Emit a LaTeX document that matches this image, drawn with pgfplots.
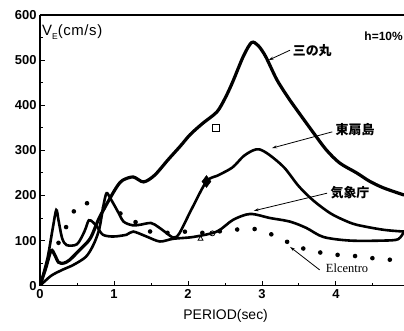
\documentclass[border=0pt]{standalone}
\usepackage{fontspec}
\setmainfont{Liberation Sans}
\newfontfamily\jp{Noto Sans CJK JP}
\newfontfamily\tm{Liberation Serif}
\usepackage{pgfplots}
\pgfplotsset{compat=1.18}
\usetikzlibrary{arrows.meta}
\begin{document}
\begin{tikzpicture}
\path[use as bounding box] (-40bp,-45.3bp) rectangle (364bp,285.7bp);
\begin{axis}[
  at={(0,0)}, anchor=south west,
  scale only axis, width=364bp, height=270.7bp,
  xmin=0, xmax=4.92, ymin=0, ymax=600,
  axis y line*=left,
  xtick={0,1,2,3,4}, minor xtick={0.5,1.5,2.5,3.5,4.5},
  ytick={0,100,200,300,400,500,600}, minor ytick={50,150,250,350,450,550},
  xtick pos=bottom,
  tick align=inside,
  major tick length=5bp, minor tick length=3bp,
  every tick/.style={black, line width=0.9bp},
  axis line style={line width=1.3bp},
  /pgf/number format/assume math mode=true,
  tick label style={font=\bfseries\fontsize{13}{14}\selectfont},
  xlabel={PERIOD(sec)},
  xlabel style={font=\fontsize{14}{15}\selectfont, at={(axis description cs:0.51,0)}, anchor=north, yshift=-20bp},
  clip mode=individual,
]
% 三の丸
\addplot[black, line width=3.2bp, smooth, tension=0.5] coordinates {
(0,0) (0.08,40) (0.15,78) (0.2,68) (0.25,52) (0.32,50) (0.4,57) (0.54,80) (0.68,105) (0.8,150) (0.95,195) (1.05,222) (1.12,234) (1.26,241) (1.4,230) (1.55,245) (1.73,279) (1.9,310) (2.03,335) (2.2,360) (2.39,385) (2.5,415) (2.6,450) (2.75,509) (2.86,539) (2.95,532) (3.05,508) (3.2,457) (3.35,418) (3.47,390) (3.7,338) (3.87,301) (4.05,272) (4.28,250) (4.45,232) (4.64,217) (4.92,201)
};
% 東扇島
\addplot[black, line width=2.6bp, smooth, tension=0.5] coordinates {
(0,0) (0.15,22) (0.3,35) (0.45,46) (0.62,64) (0.72,90) (0.8,125) (0.86,180) (0.9,205) (0.95,194) (1.05,165) (1.13,142) (1.25,134) (1.35,135) (1.5,139) (1.6,130) (1.7,118) (1.8,107) (1.88,115) (2.05,170) (2.25,231) (2.4,244) (2.6,262) (2.75,287) (2.88,300) (2.97,302) (3.1,290) (3.3,262) (3.5,220) (3.7,188) (3.92,161) (4.1,146) (4.28,135) (4.64,124) (4.92,120)
};
% 気象庁
\addplot[black, line width=2.6bp, smooth, tension=0.5] coordinates {
(0,0) (0.1,60) (0.17,125) (0.22,168) (0.25,145) (0.3,105) (0.36,90) (0.5,92) (0.6,120) (0.66,145) (0.72,140) (0.77,131) (0.85,113) (0.99,109) (1.17,113) (1.26,120) (1.44,109) (1.62,98) (1.8,104) (2.07,108) (2.39,120) (2.61,146) (2.84,159) (3.11,150) (3.38,142) (3.6,128) (3.83,108) (4.19,100) (4.64,100) (4.84,103) (4.92,120)
};
% Elcentro
\addplot[black, line width=4.6bp, line cap=round, dash pattern=on 0pt off 17.5bp, smooth, tension=0.5] coordinates {
(0.25,95) (0.39,142) (0.53,182) (0.73,179) (0.95,168) (1.2,152) (1.45,122) (1.69,117) (1.93,120) (2.16,117) (2.4,120) (2.63,124) (2.89,126) (3.14,113) (3.37,95) (3.62,79) (3.85,72) (4.1,67) (4.33,65) (4.58,59) (4.81,57) (4.92,56)
};
% observed markers
\addplot[only marks, mark=square, mark size=3.6bp, black, line width=1bp] coordinates {(2.38,350)};
\addplot[only marks, mark=diamond*, mark size=6bp, black] coordinates {(2.25,231)};
\addplot[only marks, mark=triangle, mark size=2.8bp, black, line width=0.8bp] coordinates {(2.17,104)};
\addplot[only marks, mark=o, mark size=2.5bp, black, line width=0.8bp] coordinates {(2.33,116)};
% labels
\node[anchor=west, inner sep=0, font=\fontsize{15}{16}\selectfont\addfontfeatures{LetterSpace=4}] at (axis cs:0.027,562) {V\raisebox{-0.45ex}{\fontsize{8.5}{9}\selectfont E}(cm/s)};
\node[anchor=east, inner sep=0, font=\bfseries\fontsize{12}{13}\selectfont] at (axis cs:4.905,553) {h=10\%};
\node[font=\jp\bfseries\fontsize{13}{14}\selectfont, inner sep=0] at (axis cs:3.68,520) {三の丸};
\node[font=\jp\bfseries\fontsize{13}{14}\selectfont, inner sep=0] at (axis cs:4.26,347) {東扇島};
\node[font=\jp\bfseries\fontsize{13}{14}\selectfont, inner sep=0] at (axis cs:4.19,207) {気象庁};
\node[font=\tm\fontsize{12.5}{13}\selectfont, inner sep=0] at (axis cs:4.15,39) {Elcentro};
\draw[-{Stealth[length=5bp,width=3bp]}, line width=0.8bp] (axis cs:3.38,522) -- (axis cs:3.09,500);
\draw[-{Stealth[length=5bp,width=3bp]}, line width=0.8bp] (axis cs:3.95,341) -- (axis cs:3.135,305);
\draw[-{Stealth[length=5bp,width=3bp]}, line width=0.8bp] (axis cs:3.88,205) -- (axis cs:2.89,166);
\draw[-{Stealth[length=5bp,width=3bp]}, line width=0.8bp] (axis cs:3.78,35) -- (axis cs:3.38,86);
\end{axis}
\end{tikzpicture}
\end{document}
